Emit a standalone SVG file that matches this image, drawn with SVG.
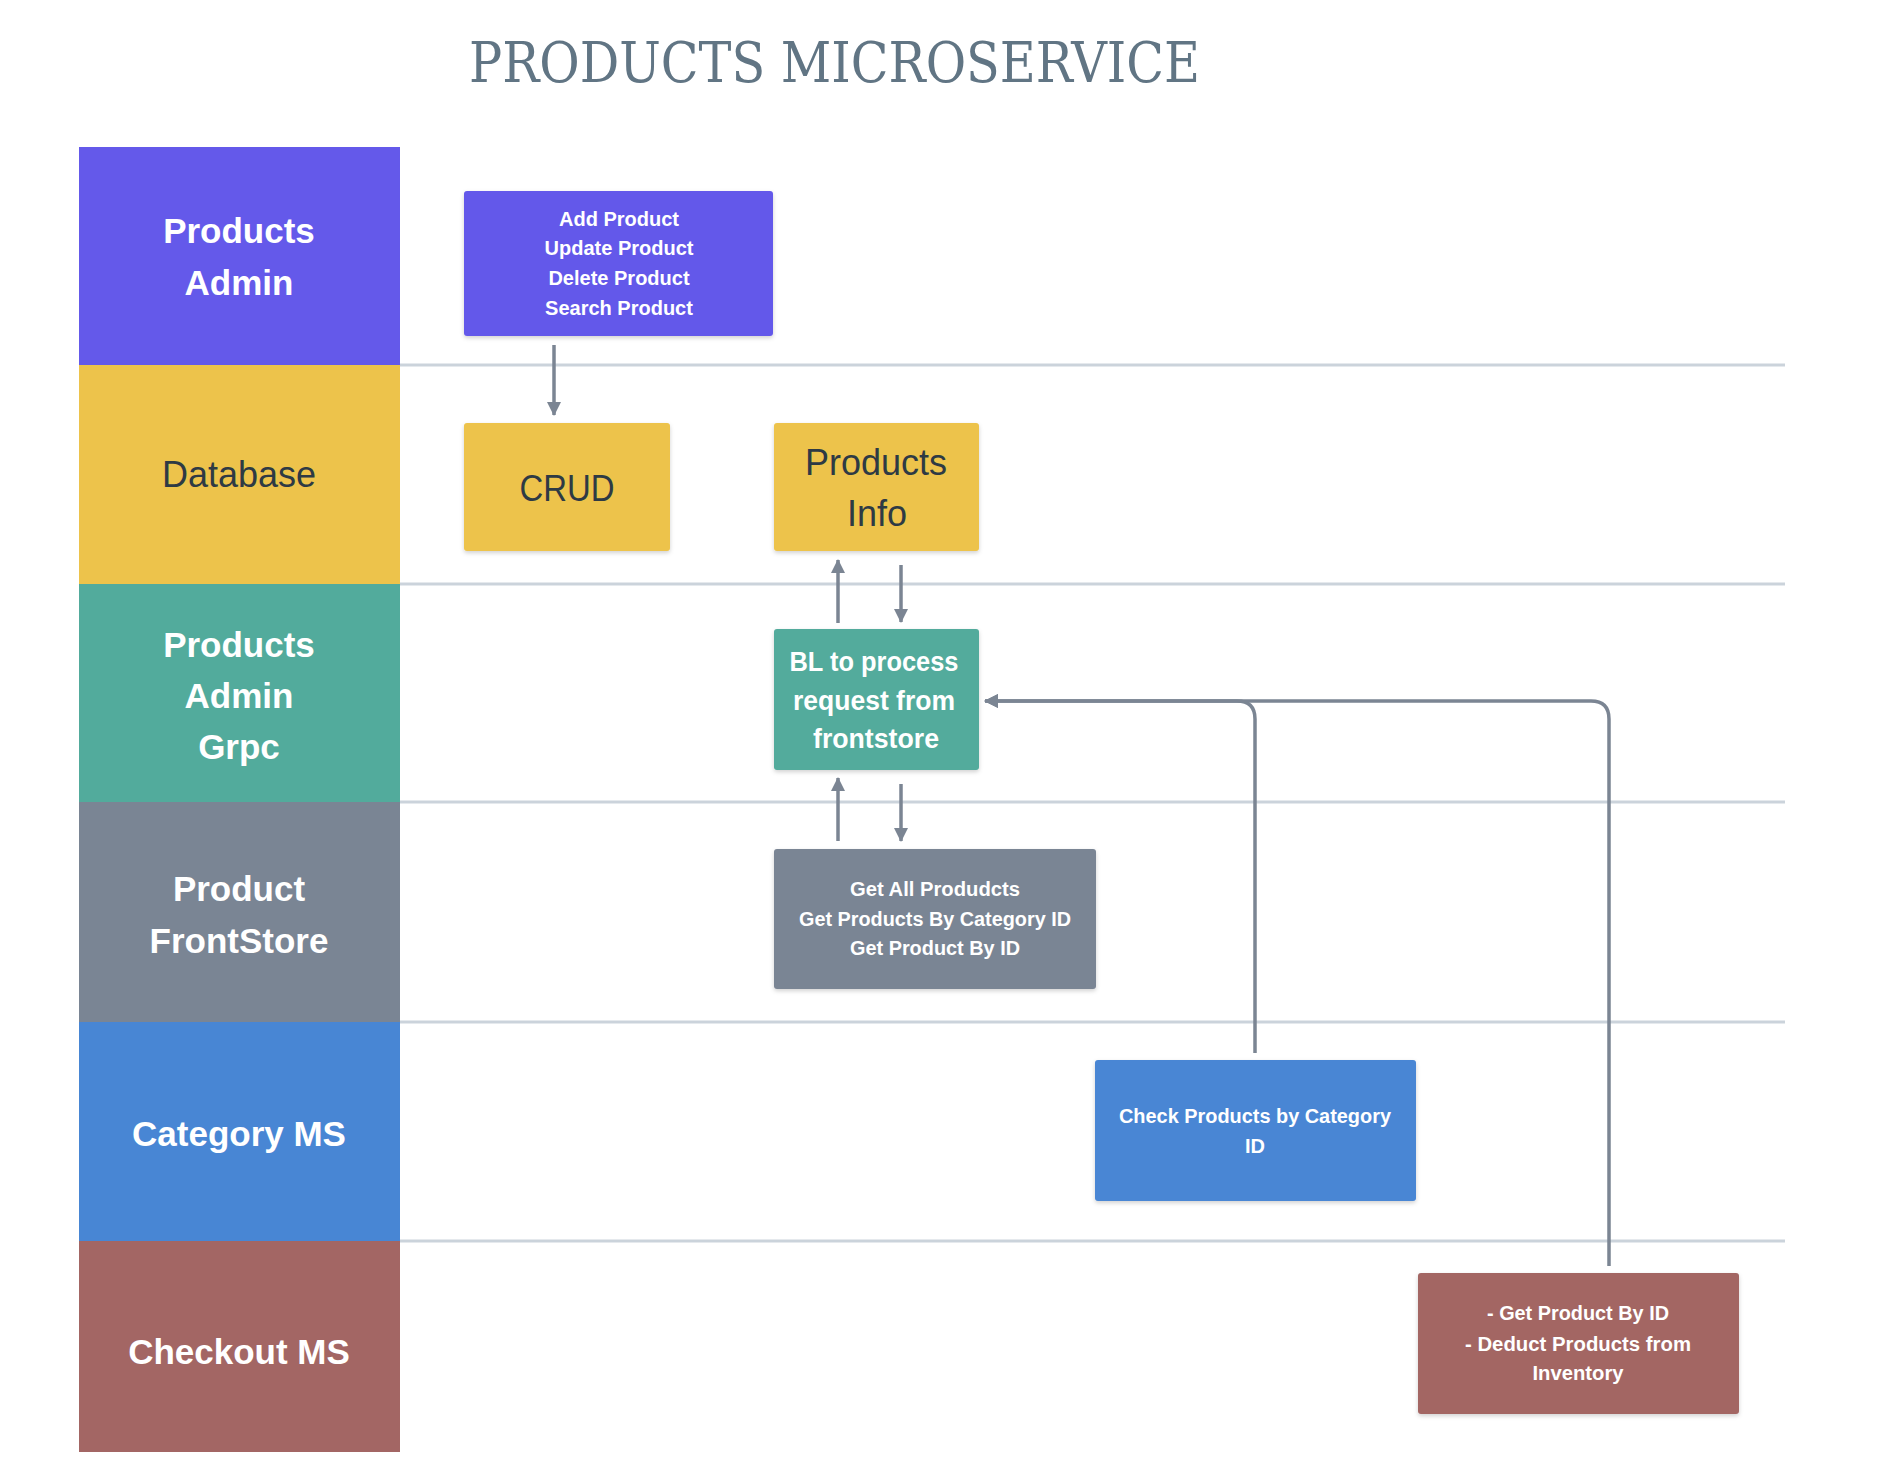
<svg xmlns="http://www.w3.org/2000/svg" width="1896" height="1462" viewBox="0 0 1896 1462">
<defs>
<style>
.lane-label{font-family:"Liberation Sans",Arial,sans-serif;font-size:35px;font-weight:bold;fill:#ffffff;text-anchor:middle}
.dark{fill:#2e3a44;font-weight:normal;font-size:36px}
.ntxt{font-family:"Liberation Sans",Arial,sans-serif;font-size:20px;font-weight:bold;fill:#ffffff;text-anchor:middle}
.bl{font-size:27px}
.big{font-family:"Liberation Sans",Arial,sans-serif;font-size:36px;fill:#2e3a44;text-anchor:middle}
.sep{stroke:#cbd3db;stroke-width:3;fill:none}
.conn{stroke:#7b8593;stroke-width:3.5;fill:none}
</style>
<marker id="ah" viewBox="0 0 14 14" refX="13" refY="7" markerWidth="14" markerHeight="14" markerUnits="userSpaceOnUse" orient="auto">
<path d="M0,0 L14,7 L0,14 z" fill="#7b8593"/>
</marker>
<filter id="sh" x="-10%" y="-10%" width="120%" height="130%">
<feDropShadow dx="0" dy="2" stdDeviation="2" flood-color="#000" flood-opacity="0.18"/>
</filter>
</defs>
<rect width="1896" height="1462" fill="#ffffff"/>
<text x="469" y="82" font-family="DejaVu Serif, Liberation Serif, serif" font-size="56" fill="#617584" textLength="731" lengthAdjust="spacingAndGlyphs">PRODUCTS MICROSERVICE</text>

<g id="separators">
<line class="sep" x1="400" y1="365" x2="1785" y2="365"/>
<line class="sep" x1="400" y1="584" x2="1785" y2="584"/>
<line class="sep" x1="400" y1="802" x2="1785" y2="802"/>
<line class="sep" x1="400" y1="1022" x2="1785" y2="1022"/>
<line class="sep" x1="400" y1="1241" x2="1785" y2="1241"/>
</g>

<g id="lane-admin">
<rect x="79" y="147" width="321" height="218" fill="#6459ea"/>
<text class="lane-label" x="239" y="243">Products</text>
<text class="lane-label" x="239" y="295">Admin</text>
</g>
<g id="lane-database">
<rect x="79" y="365" width="321" height="219" fill="#edc34b"/>
<text class="lane-label dark" x="239" y="487">Database</text>
</g>
<g id="lane-grpc">
<rect x="79" y="584" width="321" height="218" fill="#52ab9c"/>
<text class="lane-label" x="239" y="657">Products</text>
<text class="lane-label" x="239" y="708">Admin</text>
<text class="lane-label" x="239" y="759">Grpc</text>
</g>
<g id="lane-frontstore">
<rect x="79" y="802" width="321" height="220" fill="#7a8594"/>
<text class="lane-label" x="239" y="901">Product</text>
<text class="lane-label" x="239" y="953">FrontStore</text>
</g>
<g id="lane-category">
<rect x="79" y="1022" width="321" height="219" fill="#4886d4"/>
<text class="lane-label" x="239" y="1146">Category MS</text>
</g>
<g id="lane-checkout">
<rect x="79" y="1241" width="321" height="211" fill="#a36664"/>
<text class="lane-label" x="239" y="1364">Checkout MS</text>
</g>

<g id="node-admin-ops">
<rect x="464" y="191" width="309" height="145" rx="3" fill="#6459ea" filter="url(#sh)"/>
<text class="ntxt" x="619" y="226">Add Product</text>
<text class="ntxt" x="619" y="255">Update Product</text>
<text class="ntxt" x="619" y="285">Delete Product</text>
<text class="ntxt" x="619" y="315">Search Product</text>
</g>
<g id="node-crud">
<rect x="464" y="423" width="206" height="128" rx="3" fill="#edc34b" filter="url(#sh)"/>
<text class="big" x="567" y="501" textLength="95" lengthAdjust="spacingAndGlyphs">CRUD</text>
</g>
<g id="node-products-info">
<rect x="774" y="423" width="205" height="128" rx="3" fill="#edc34b" filter="url(#sh)"/>
<text class="big" x="876" y="475">Products</text>
<text class="big" x="877" y="526">Info</text>
</g>
<g id="node-bl">
<rect x="774" y="629" width="205" height="141" rx="3" fill="#52ab9c" filter="url(#sh)"/>
<text class="ntxt bl" x="874" y="671" textLength="169" lengthAdjust="spacingAndGlyphs">BL to process</text>
<text class="ntxt bl" x="874" y="710" textLength="162" lengthAdjust="spacingAndGlyphs">request from</text>
<text class="ntxt bl" x="876" y="748" textLength="126" lengthAdjust="spacingAndGlyphs">frontstore</text>
</g>
<g id="node-frontstore">
<rect x="774" y="849" width="322" height="140" rx="3" fill="#7a8594" filter="url(#sh)"/>
<text class="ntxt" x="935" y="896" fill="#f2f2f2" textLength="170" lengthAdjust="spacingAndGlyphs">Get All Produdcts</text>
<text class="ntxt" x="935" y="926" fill="#f2f2f2" textLength="272" lengthAdjust="spacingAndGlyphs">Get Products By Category ID</text>
<text class="ntxt" x="935" y="955" fill="#f2f2f2" textLength="170" lengthAdjust="spacingAndGlyphs">Get Product By ID</text>
</g>
<g id="node-category">
<rect x="1095" y="1060" width="321" height="141" rx="3" fill="#4886d4" filter="url(#sh)"/>
<text class="ntxt" x="1255" y="1123" textLength="272" lengthAdjust="spacingAndGlyphs">Check Products by Category</text>
<text class="ntxt" x="1255" y="1153">ID</text>
</g>
<g id="node-checkout">
<rect x="1418" y="1273" width="321" height="141" rx="3" fill="#a36664" filter="url(#sh)"/>
<text class="ntxt" x="1578" y="1320" textLength="182" lengthAdjust="spacingAndGlyphs">- Get Product By ID</text>
<text class="ntxt" x="1578" y="1351" textLength="226" lengthAdjust="spacingAndGlyphs">- Deduct Products from</text>
<text class="ntxt" x="1578" y="1380" textLength="91" lengthAdjust="spacingAndGlyphs">Inventory</text>
</g>

<g id="connectors">
<line class="conn" x1="554" y1="345" x2="554" y2="415" marker-end="url(#ah)"/>
<line class="conn" x1="838" y1="623" x2="838" y2="560" marker-end="url(#ah)"/>
<line class="conn" x1="901" y1="565" x2="901" y2="622" marker-end="url(#ah)"/>
<line class="conn" x1="838" y1="841" x2="838" y2="778" marker-end="url(#ah)"/>
<line class="conn" x1="901" y1="784" x2="901" y2="841" marker-end="url(#ah)"/>
<path class="conn" d="M1255,1053 V719 Q1255,701 1237,701 H985" marker-end="url(#ah)"/>
<path class="conn" d="M1609,1266 V719 Q1609,701 1591,701 H985" marker-end="url(#ah)"/>
</g>
</svg>
